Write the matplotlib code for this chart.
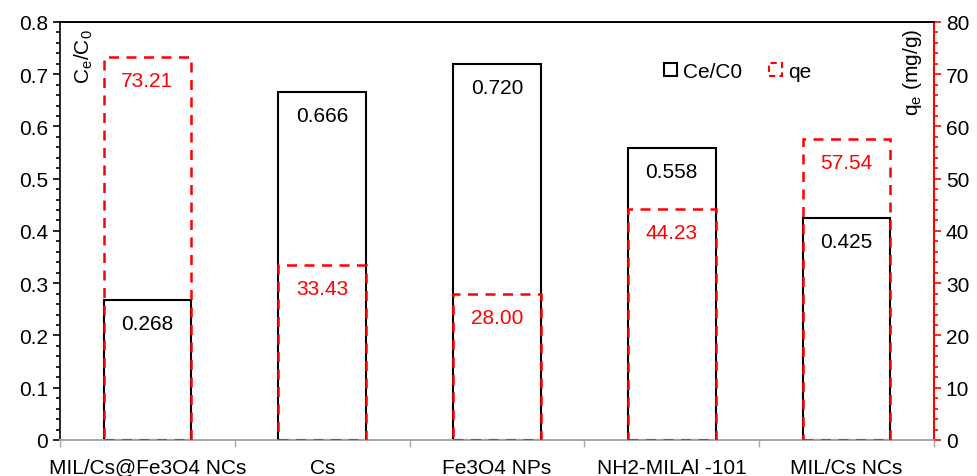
import matplotlib
matplotlib.use("Agg")
import matplotlib.pyplot as plt
from matplotlib.ticker import MultipleLocator
from matplotlib.patches import Rectangle
import numpy as np

plt.rcParams["font.family"] = ["Liberation Sans", "DejaVu Sans"]

categories = ["MIL/Cs@Fe3O4 NCs", "Cs", "Fe3O4 NPs", "NH2-MILAl -101", "MIL/Cs NCs"]
ce_c0 = [0.268, 0.666, 0.720, 0.558, 0.425]
qe = [73.21, 33.43, 28.00, 44.23, 57.54]
ce_labels = ["0.268", "0.666", "0.720", "0.558", "0.425"]
qe_labels = ["73.21", "33.43", "28.00", "44.23", "57.54"]


def main():
    fig = plt.figure(figsize=(9.77, 4.77), dpi=100)
    ax = fig.add_axes([0.0614, 0.0755, 0.8946, 0.8765])
    ax2 = ax.twinx()

    x = np.arange(len(categories))
    width = 0.5

    ax.bar(x, ce_c0, width, fill=False, edgecolor="black", linewidth=1.5, zorder=2)
    ax2.bar(x, qe, width, fill=False, edgecolor="red", linewidth=1.8,
            linestyle=(0, (4, 3)), zorder=3)

    for xi, v, lab in zip(x, ce_c0, ce_labels):
        ax.text(xi, v - 0.045, lab, ha="center", va="center", fontsize=15, color="black")
    for xi, v, lab in zip(x, qe, qe_labels):
        ax2.text(xi, v - 4.5, lab, ha="center", va="center", fontsize=15, color="red")

    ax.set_xlim(-0.5, len(categories) - 0.5)
    ax.set_ylim(0, 0.8)
    ax2.set_ylim(0, 80)

    ax.yaxis.set_major_locator(MultipleLocator(0.1))
    ax.yaxis.set_minor_locator(MultipleLocator(0.02))
    ax.yaxis.set_major_formatter(plt.FuncFormatter(lambda v, p: "0" if v == 0 else f"{v:.1f}"))
    ax2.yaxis.set_major_locator(MultipleLocator(10))
    ax2.yaxis.set_minor_locator(MultipleLocator(2))

    ax.set_xticks(x)
    ax.set_xticklabels(categories, fontsize=15)
    ax.tick_params(axis="x", length=0, pad=13)
    ax.set_xticks(np.arange(-0.5, len(categories) + 0.5, 1), minor=True)
    ax.tick_params(axis="x", which="minor", length=5, color="#a6a6a6", width=1)

    ax.tick_params(axis="y", which="major", direction="out", length=5, width=1.2, labelsize=15)
    ax.tick_params(axis="y", which="minor", direction="out", length=3, width=1.2)
    ax2.tick_params(axis="y", which="major", direction="out", length=5, width=1.2,
                    color="red", labelsize=15, labelcolor="black")
    ax2.tick_params(axis="y", which="minor", direction="out", length=3, width=1.2, color="red")

    for a in (ax, ax2):
        a.spines["bottom"].set_color("#a6a6a6")
        a.spines["bottom"].set_linewidth(1.2)
        a.spines["top"].set_linewidth(1.2)
        a.spines["left"].set_linewidth(1.2)
        a.spines["right"].set_visible(False)
    ax2.spines["right"].set_visible(True)
    ax2.spines["right"].set_color("red")
    ax2.spines["right"].set_linewidth(1.5)
    ax2.spines["left"].set_visible(False)

    ax.text(0.014, 0.985, r"C$_\mathregular{e}$/C$_\mathregular{0}$", transform=ax.transAxes,
            rotation=90, ha="left", va="top", fontsize=15)
    ax2.text(0.988, 0.985, r"q$_\mathregular{e}$ (mg/g)", transform=ax2.transAxes,
             rotation=90, ha="right", va="top", fontsize=15)

    handles = [
        Rectangle((0, 0), 1, 1, fill=False, edgecolor="black", linewidth=1.5),
        Rectangle((0, 0), 1, 1, fill=False, edgecolor="red", linewidth=1.5,
                  linestyle=(0, (3, 2))),
    ]
    ax2.legend(handles, ["Ce/C0", "qe"], loc="upper left", bbox_to_anchor=(0.67, 0.95),
               ncol=2, frameon=False, fontsize=15, handlelength=0.6, handleheight=0.6,
               handletextpad=0.3, columnspacing=1.3)

    fig.savefig("out.png", dpi=100)


if __name__ == "__main__":
    main()
